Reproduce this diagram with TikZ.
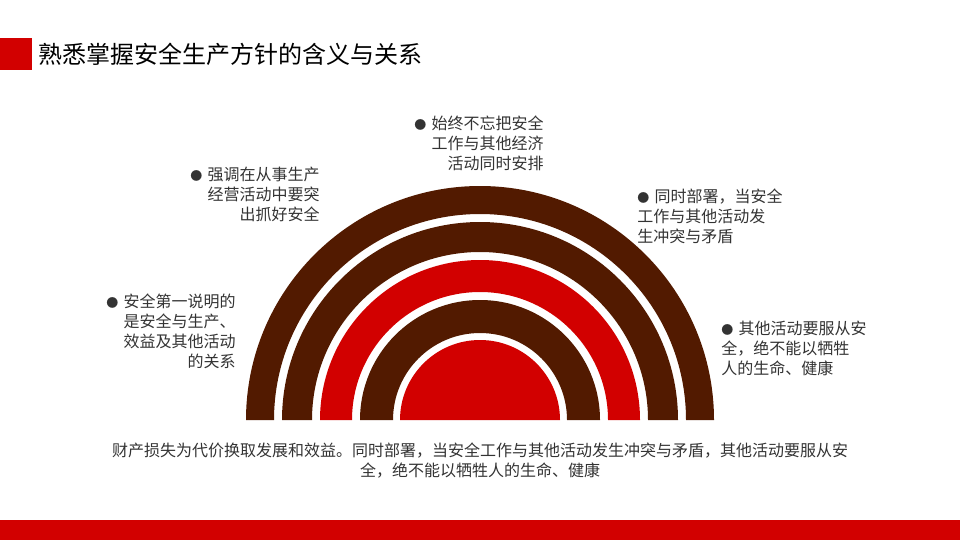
\documentclass[tikz,border=0pt]{standalone}
\usepackage{fontspec}
\setmainfont{Noto Sans CJK SC}
\definecolor{ringbrown}{HTML}{521A00}
\definecolor{ringred}{HTML}{D20000}
\definecolor{txtgray}{HTML}{333333}
\tikzset{
  note/.style={font=\fontsize{12}{15}\selectfont, text=txtgray, inner sep=0pt},
  ring/.style={fill=#1, draw=none}
}
\newcommand{\halfring}[3]{%
  \fill[#3] (480-#1,420) arc[start angle=180,end angle=360,radius=#1] -- (480+#2,420) arc[start angle=360,end angle=180,radius=#2] -- cycle;}
\newcommand{\dotmark}{{\fontsize{9}{9}\selectfont ●}\,\,}
\begin{document}
\begin{tikzpicture}[x=0.75pt,y=-0.75pt]
    \useasboundingbox (0,0) rectangle (960,540);
    % Title bar
    \fill[ringred] (0,38) rectangle (32,70);
    \node[anchor=west, inner sep=0pt, font=\fontsize{18}{21}\selectfont] (title) at (38,54) {熟悉掌握安全生产方针的含义与关系};
    % Bottom bar
    \fill[ringred] (0,520) rectangle (960,540);

    % Rings
    \halfring{234}{206}{ringbrown}
    \halfring{198}{168}{ringbrown}
    \halfring{160}{128}{ringred}
    \halfring{120}{87}{ringbrown}
    \fill[ringred] (400,420) arc[start angle=180,end angle=360,radius=80] -- cycle;

    % Notes
    \node[note, align=right, anchor=north east] (n1) at (320,167) {\dotmark 强调在从事生产\\经营活动中要突\\出抓好安全};
    \node[note, align=right, anchor=north east] (n2) at (544,116) {\dotmark 始终不忘把安全\\工作与其他经济\\活动同时安排};
    \node[note, align=left, anchor=north west] (n3) at (637,189) {\dotmark 同时部署，当安全\\工作与其他活动发\\生冲突与矛盾};
    \node[note, align=left, anchor=north west] (n4) at (721,321) {\dotmark 其他活动要服从安\\全，绝不能以牺牲\\人的生命、健康};
    \node[note, align=right, anchor=north east] (n5) at (236,294) {\dotmark 安全第一说明的\\是安全与生产、\\效益及其他活动\\的关系};

    % Bottom text
    \node[note, align=center, anchor=north] (summary) at (480,443) {财产损失为代价换取发展和效益。同时部署，当安全工作与其他活动发生冲突与矛盾，其他活动要服从安\\全，绝不能以牺牲人的生命、健康};
\end{tikzpicture}
\end{document}
